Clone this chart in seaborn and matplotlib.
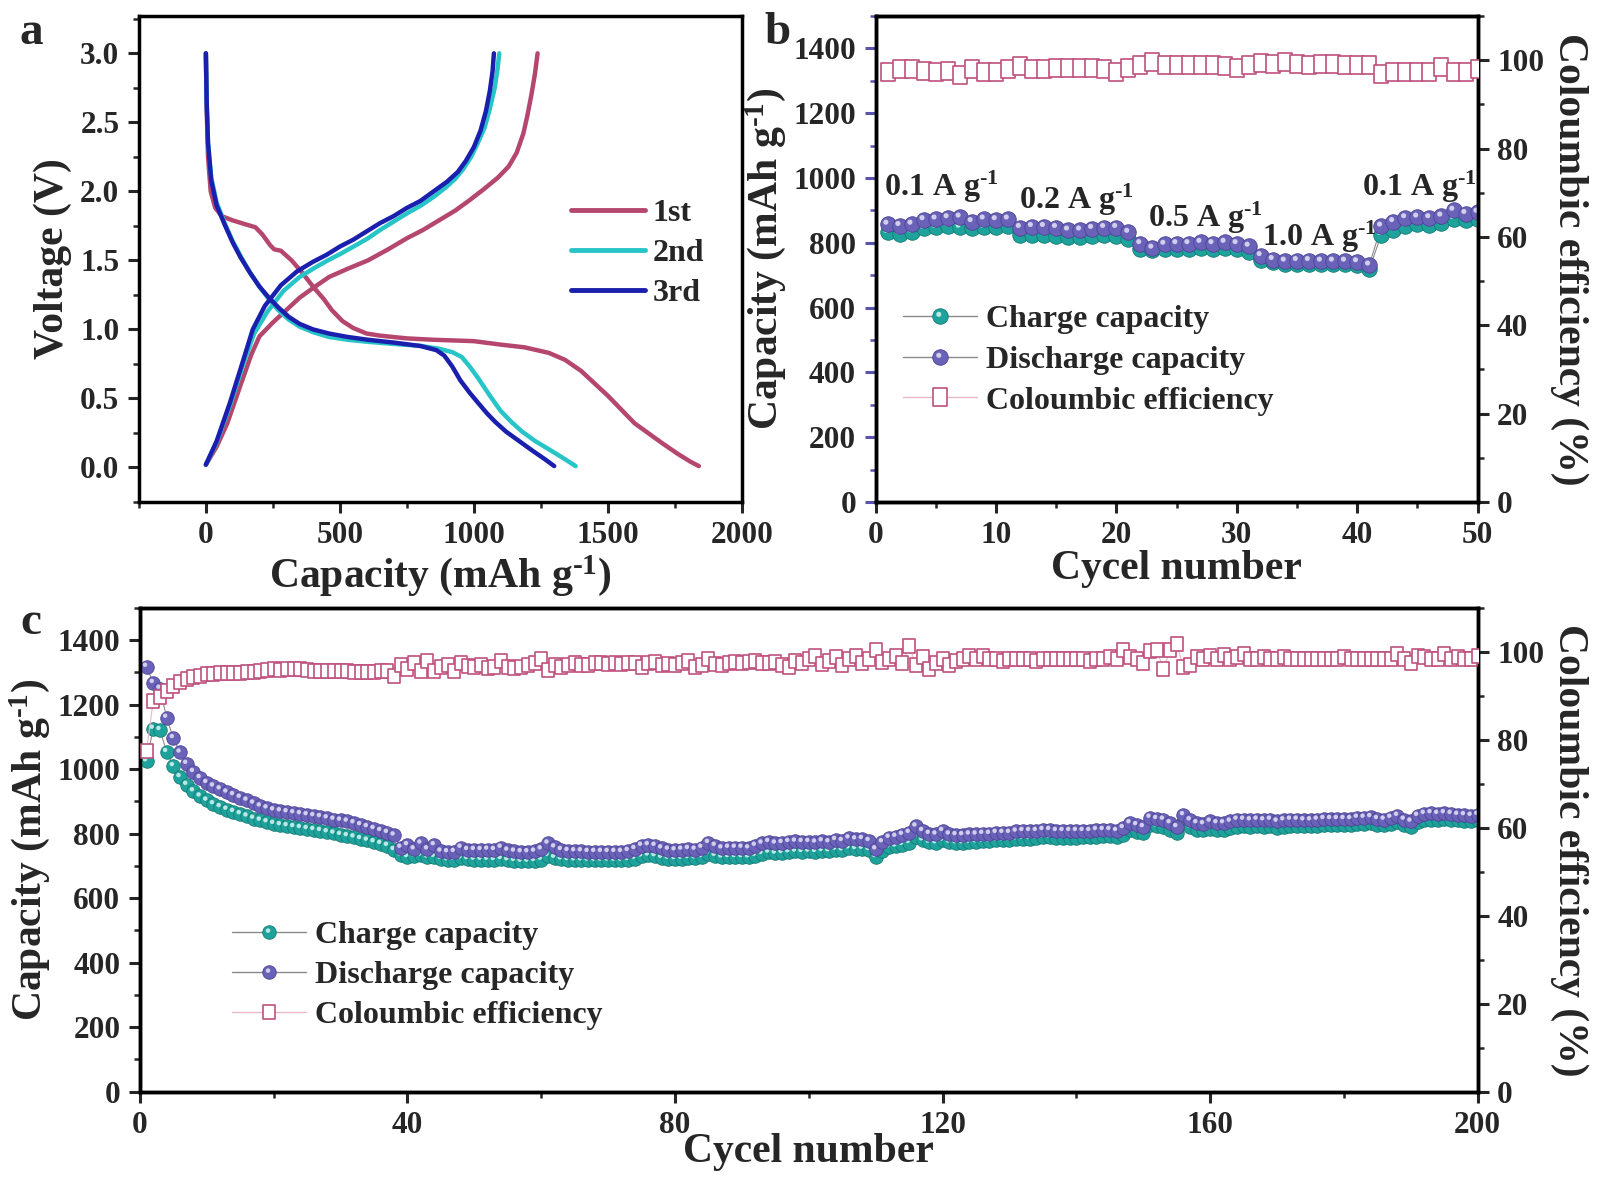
import numpy as np
import pandas as pd
import matplotlib
matplotlib.use("Agg")
import matplotlib.pyplot as plt
import seaborn as sns
from matplotlib.path import Path
from matplotlib.lines import Line2D
from matplotlib.legend_handler import HandlerTuple
from matplotlib.ticker import MultipleLocator

# ---------------- data: panel a (galvanostatic profiles) ----------------
dis1_cap = [0, 3, 8, 18, 35, 60, 100, 150, 185, 210, 240, 255, 280, 320, 360, 400, 440, 470, 510, 550, 600, 650, 750, 850, 1000, 1100, 1190, 1280, 1340, 1400, 1450, 1500, 1550, 1600, 1650, 1700, 1760, 1810, 1840]
dis1_v = [3.0, 2.6, 2.25, 2.0, 1.88, 1.82, 1.79, 1.76, 1.74, 1.69, 1.61, 1.58, 1.57, 1.50, 1.41, 1.31, 1.22, 1.14, 1.06, 1.01, 0.97, 0.955, 0.935, 0.925, 0.915, 0.89, 0.87, 0.83, 0.78, 0.70, 0.61, 0.52, 0.42, 0.32, 0.25, 0.18, 0.10, 0.04, 0.01]
chg1_cap = [0, 40, 80, 130, 170, 200, 250, 300, 350, 400, 460, 530, 605, 680, 750, 810, 870, 930, 980, 1040, 1090, 1130, 1160, 1185, 1200, 1215, 1228, 1238]
chg1_v = [0.02, 0.15, 0.32, 0.60, 0.82, 0.95, 1.05, 1.14, 1.23, 1.30, 1.38, 1.44, 1.50, 1.58, 1.66, 1.72, 1.79, 1.86, 1.93, 2.02, 2.10, 2.18, 2.28, 2.42, 2.55, 2.70, 2.85, 3.0]
dis2_cap = [0, 3, 8, 20, 40, 70, 100, 130, 165, 200, 235, 270, 310, 350, 400, 460, 530, 605, 700, 805, 870, 920, 955, 985, 1015, 1060, 1100, 1140, 1180, 1230, 1290, 1340, 1380]
dis2_v = [3.0, 2.65, 2.35, 2.1, 1.92, 1.77, 1.64, 1.53, 1.41, 1.31, 1.22, 1.14, 1.07, 1.02, 0.98, 0.945, 0.925, 0.91, 0.895, 0.88, 0.86, 0.835, 0.80, 0.73, 0.65, 0.52, 0.41, 0.33, 0.26, 0.19, 0.12, 0.06, 0.01]
chg2_cap = [0, 40, 90, 140, 180, 230, 290, 350, 405, 455, 505, 560, 605, 650, 700, 750, 805, 850, 896, 930, 960, 990, 1015, 1040, 1060, 1078, 1088, 1095]
chg2_v = [0.02, 0.18, 0.45, 0.75, 0.97, 1.13, 1.28, 1.38, 1.445, 1.50, 1.55, 1.61, 1.66, 1.72, 1.78, 1.84, 1.90, 1.96, 2.03, 2.09, 2.16, 2.25, 2.35, 2.46, 2.60, 2.75, 2.88, 3.0]
dis3_cap = [0, 3, 8, 20, 40, 70, 100, 130, 165, 200, 235, 270, 310, 350, 400, 460, 530, 605, 700, 800, 860, 890, 920, 950, 985, 1015, 1050, 1080, 1120, 1170, 1220, 1265, 1300]
dis3_v = [3.0, 2.65, 2.35, 2.08, 1.90, 1.76, 1.63, 1.52, 1.41, 1.31, 1.23, 1.16, 1.09, 1.04, 1.00, 0.97, 0.945, 0.925, 0.905, 0.88, 0.85, 0.81, 0.73, 0.63, 0.54, 0.47, 0.39, 0.33, 0.26, 0.19, 0.12, 0.06, 0.01]
chg3_cap = [0, 40, 90, 140, 175, 220, 280, 340, 400, 450, 500, 550, 600, 650, 700, 750, 800, 850, 900, 940, 970, 1000, 1025, 1045, 1060, 1070, 1075]
chg3_v = [0.02, 0.19, 0.47, 0.78, 1.00, 1.17, 1.32, 1.42, 1.49, 1.54, 1.60, 1.65, 1.71, 1.77, 1.82, 1.88, 1.93, 2.00, 2.07, 2.14, 2.22, 2.32, 2.44, 2.58, 2.73, 2.87, 3.0]
cycle_labels = ["1st", "2nd", "3rd"]

# ---------------- data: panel b (rate) ----------------
b_cycles = list(range(1, 51))
b_charge = [832, 828, 833, 845, 848, 852, 848, 845, 848, 848, 852, 825, 825, 825, 822, 818, 818, 822, 825, 822, 812,
            782, 778, 780, 782, 782, 785, 782, 785, 782, 772, 748, 740, 735, 735, 735, 735, 735, 735, 732, 718,
            825, 840, 852, 858, 855, 862, 875, 870, 872]
b_discharge = [857, 853, 857, 871, 873, 877, 879, 865, 873, 871, 873, 847, 850, 850, 847, 839, 839, 844, 847, 847, 832,
               797, 783, 795, 797, 797, 801, 797, 801, 797, 789, 760, 748, 743, 745, 745, 743, 743, 743, 741, 731,
               851, 865, 877, 879, 877, 882, 900, 890, 894]
b_ce = [97.3, 97.9, 98.1, 97.6, 97.3, 97.6, 96.6, 98.0, 97.4, 97.3, 98.0, 98.7, 97.9, 98.1, 98.3, 98.3, 98.3, 98.3, 98.1, 97.3,
        98.3, 99.0, 99.6, 99.0, 98.9, 98.9, 98.9, 98.9, 98.6, 98.3, 99.0, 99.3, 99.2, 99.7, 99.2, 99.0, 99.2, 99.2, 99.0, 98.9,
        98.9, 96.8, 97.4, 97.4, 97.3, 97.3, 98.5, 97.4, 97.4, 97.9]
rate_labels = [r"0.1 A g$^{\text{-1}}$", r"0.2 A g$^{\text{-1}}$", r"0.5 A g$^{\text{-1}}$",
               r"1.0 A g$^{\text{-1}}$", r"0.1 A g$^{\text{-1}}$"]
rate_label_x = [0.7, 11.9, 22.6, 32.1, 40.4]
rate_label_y = [972, 934, 877, 818, 972]

# ---------------- data: panel c (long cycling) ----------------
c_cycles = list(range(1, 201))
c_discharge = [1318, 1268, 1250, 1160, 1097, 1052, 1017, 992, 973, 958,
               947, 938, 928, 920, 912, 903, 894, 885, 879, 873,
               870, 867, 864, 861, 858, 855, 852, 848, 844, 841,
               838, 833, 827, 821, 815, 809, 803, 795, 757, 765,
               752, 770, 752, 765, 745, 743, 744, 757, 750, 750,
               750, 751, 750, 757, 748, 745, 743, 743, 745, 752,
               770, 758, 750, 747, 746, 746, 744, 744, 744, 744,
               744, 744, 747, 753, 763, 765, 763, 755, 751, 749,
               751, 753, 751, 757, 772, 763, 755, 757, 757, 757,
               755, 763, 770, 775, 770, 772, 775, 776, 775, 775,
               773, 777, 774, 781, 778, 786, 783, 784, 778, 752,
               774, 788, 791, 797, 803, 823, 809, 800, 798, 809,
               798, 796, 796, 798, 798, 800, 800, 803, 803, 803,
               807, 809, 809, 809, 812, 812, 809, 809, 809, 809,
               809, 809, 812, 812, 812, 809, 818, 833, 827, 821,
               850, 846, 844, 833, 821, 858, 842, 833, 830, 838,
               833, 833, 838, 844, 844, 842, 844, 842, 844, 838,
               842, 844, 844, 842, 842, 844, 846, 846, 846, 846,
               846, 850, 850, 852, 846, 844, 850, 856, 844, 838,
               856, 862, 864, 862, 864, 862, 859, 858, 856, 859]
c_charge = [1025, 1126, 1122, 1054, 1010, 976, 952, 932, 916, 903,
            892, 883, 875, 868, 861, 854, 847, 841, 836, 831,
            827, 824, 821, 818, 815, 812, 809, 805, 801, 797,
            793, 789, 784, 779, 774, 769, 763, 750, 733, 728,
            730, 733, 727, 729, 722, 718, 720, 724, 722, 720,
            720, 720, 719, 722, 718, 716, 714, 714, 716, 720,
            732, 726, 721, 719, 718, 718, 717, 717, 717, 717,
            717, 717, 719, 723, 730, 733, 731, 726, 723, 722,
            723, 725, 724, 728, 738, 732, 727, 728, 728, 728,
            727, 732, 738, 742, 739, 741, 743, 745, 744, 745,
            744, 747, 746, 751, 749, 755, 753, 754, 750, 728,
            746, 758, 761, 766, 772, 790, 780, 773, 771, 779,
            773, 771, 771, 773, 774, 776, 776, 779, 780, 780,
            783, 785, 785, 786, 789, 789, 787, 787, 788, 788,
            789, 789, 791, 792, 792, 790, 797, 810, 806, 801,
            826, 823, 822, 812, 803, 835, 820, 812, 810, 816,
            813, 813, 817, 822, 823, 821, 823, 822, 824, 819,
            822, 824, 825, 823, 823, 825, 827, 827, 828, 828,
            828, 831, 831, 833, 828, 826, 831, 836, 826, 821,
            836, 842, 844, 843, 845, 843, 841, 840, 839, 841]
c_ce = [77.5, 88.9, 89.7, 91.2, 92.3, 93.2, 93.8, 94.3, 94.6, 94.9,
        94.9, 95.1, 95.1, 95.3, 95.3, 95.5, 95.5, 95.7, 96.0, 96.2,
        96.0, 96.2, 96.2, 96.2, 96.0, 95.7, 95.7, 95.7, 95.7, 95.7,
        95.7, 95.5, 95.5, 95.5, 95.5, 95.7, 95.7, 94.6, 97.0, 96.2,
        97.4, 95.7, 97.9, 95.7, 96.6, 97.0, 95.7, 97.4, 96.8, 96.6,
        97.0, 96.3, 96.6, 97.9, 96.6, 96.3, 96.6, 97.0, 97.4, 98.3,
        96.0, 97.0, 96.6, 97.0, 97.4, 97.0, 97.0, 97.4, 97.4, 97.2,
        97.4, 97.2, 97.4, 97.4, 96.6, 97.4, 97.7, 97.0, 97.2, 97.0,
        97.4, 97.9, 96.6, 97.0, 98.3, 97.2, 97.0, 97.4, 97.7, 97.4,
        97.7, 97.9, 97.4, 97.4, 97.7, 97.0, 96.6, 97.9, 97.4, 98.3,
        99.1, 97.2, 98.0, 98.9, 97.0, 98.3, 99.1, 97.4, 98.3, 100.4,
        97.7, 98.5, 99.1, 97.4, 101.4, 97.0, 98.9, 96.2, 97.4, 98.3,
        97.0, 97.9, 98.3, 99.1, 98.3, 99.1, 98.3, 98.3, 97.9, 98.3,
        98.5, 98.3, 98.3, 98.0, 98.3, 98.3, 98.5, 98.3, 98.3, 98.3,
        98.5, 98.0, 98.5, 98.5, 98.9, 98.3, 100.4, 98.9, 98.3, 97.4,
        100.2, 100.4, 96.2, 100.4, 101.7, 96.6, 97.0, 98.9, 98.3, 99.1,
        98.3, 99.3, 98.3, 98.9, 99.5, 98.3, 98.5, 98.9, 98.3, 98.3,
        98.9, 98.3, 98.5, 98.3, 98.3, 98.3, 98.3, 98.5, 98.3, 98.9,
        98.3, 98.3, 98.5, 98.3, 98.3, 98.3, 98.3, 99.6, 98.3, 97.4,
        99.1, 98.9, 98.3, 98.5, 99.5, 98.3, 98.9, 98.5, 98.3, 99.1]
legend_labels = ["Charge capacity", "Discharge capacity", "Coloumbic efficiency"]

# ---------------- style ----------------
sns.set_style("ticks")
plt.rcParams["font.family"] = ["Liberation Serif", "DejaVu Serif"]
plt.rcParams["font.weight"] = "bold"
plt.rcParams["axes.labelweight"] = "bold"
plt.rcParams["mathtext.fontset"] = "custom"
plt.rcParams["mathtext.rm"] = "Liberation Serif:bold"
plt.rcParams["mathtext.it"] = "Liberation Serif:italic:bold"
plt.rcParams["mathtext.bf"] = "Liberation Serif:bold"
plt.rcParams["mathtext.default"] = "rm"

C1, C2, C3 = "#b5476f", "#27c4c8", "#1b1fae"
TEAL, TEAL_E = "#1ea39c", "#157a74"
PURP, PURP_E = "#6a62b8", "#4b4495"
CE_COL = "#c0507e"
TICK_FS = 22.5
LABEL_FS = 30
LEG_FS = 23

# highlight marker (small offset circle) to mimic shaded spheres
_c = Path.unit_circle()
_hv = np.concatenate([[[-1, -1], [1, 1]], _c.vertices * 0.33 + np.array([-0.22, 0.28])])
_hc = np.concatenate([[Path.MOVETO, Path.MOVETO], _c.codes])
HL = Path(_hv, _hc)
RECT = Path([[-0.8, -1], [0.8, -1], [0.8, 1], [-0.8, 1], [-0.8, -1]],
            [Path.MOVETO, Path.LINETO, Path.LINETO, Path.LINETO, Path.CLOSEPOLY])


def style_axis(ax, lw=2.5):
    for s in ax.spines.values():
        s.set_linewidth(lw)
        s.set_color("black")
    ax.tick_params(which="major", direction="out", length=8, width=2.2, labelsize=TICK_FS, pad=6)
    ax.tick_params(which="minor", direction="out", length=4.5, width=1.8)


fig = plt.figure(figsize=(16, 11.8), dpi=100)
axa = fig.add_axes([0.0868, 0.5746, 0.3768, 0.4118])
axb = fig.add_axes([0.5472, 0.5746, 0.3763, 0.4118])
axc = fig.add_axes([0.0874, 0.0748, 0.8362, 0.4100])

# ---------------- panel a ----------------
pairs = [((dis1_cap, dis1_v), (chg1_cap, chg1_v), C1),
         ((dis2_cap, dis2_v), (chg2_cap, chg2_v), C2),
         ((dis3_cap, dis3_v), (chg3_cap, chg3_v), C3)]
for (d, c, col), lab in zip(pairs, cycle_labels):
    sns.lineplot(x=d[0], y=d[1], ax=axa, sort=False, estimator=None, color=col, lw=3.2)
    sns.lineplot(x=c[0], y=c[1], ax=axa, sort=False, estimator=None, color=col, lw=3.2)
axa.set_xlim(-250, 2000)
axa.set_ylim(-0.25, 3.27)
axa.xaxis.set_major_locator(MultipleLocator(500))
axa.xaxis.set_minor_locator(MultipleLocator(250))
axa.yaxis.set_major_locator(MultipleLocator(0.5))
axa.yaxis.set_minor_locator(MultipleLocator(0.25))
axa.yaxis.set_major_formatter(matplotlib.ticker.FormatStrFormatter("%.1f"))
style_axis(axa)
axa.set_xlabel(r"Capacity (mAh g$^{\text{-1}}$)", fontsize=LABEL_FS, labelpad=2)
axa.set_ylabel("Voltage (V)", fontsize=LABEL_FS, labelpad=6)
ha = [Line2D([], [], color=col, lw=3.5) for col in (C1, C2, C3)]
axa.legend(ha, cycle_labels, loc="center left", bbox_to_anchor=(0.717, 0.512), frameon=False,
           fontsize=LEG_FS, handlelength=2.3, handletextpad=0.25, labelspacing=0.33, borderpad=0,
           borderaxespad=0)


def cap_panel(ax, cycles, charge, discharge, ce, s_ball, s_sq, legend_anchor, lspace):
    sns.lineplot(x=cycles, y=charge, ax=ax, color="#8a8a8a", lw=0.8, zorder=2)
    sns.lineplot(x=cycles, y=discharge, ax=ax, color="#8a8a8a", lw=0.8, zorder=2)
    sns.scatterplot(x=cycles, y=charge, ax=ax, color=TEAL, s=s_ball, edgecolor=TEAL_E, linewidth=0.6, zorder=3)
    sns.scatterplot(x=cycles, y=charge, ax=ax, color="#d8f4f2", s=s_ball, marker=HL, edgecolor="none",
                    linewidth=0, alpha=0.85, zorder=3.1)
    sns.scatterplot(x=cycles, y=discharge, ax=ax, color=PURP, s=s_ball, edgecolor=PURP_E, linewidth=0.6, zorder=4)
    sns.scatterplot(x=cycles, y=discharge, ax=ax, color="#e4e1f6", s=s_ball, marker=HL, edgecolor="none",
                    linewidth=0, alpha=0.85, zorder=4.1)
    ax.set_xlim(0, cycles[-1])
    ax.set_ylim(0, 1500)
    ax.yaxis.set_major_locator(MultipleLocator(200))
    ax.yaxis.set_minor_locator(MultipleLocator(100))
    style_axis(ax)
    ax.set_ylabel(r"Capacity (mAh g$^{\text{-1}}$)", fontsize=LABEL_FS, labelpad=4)
    ax.set_xlabel("Cycel number", fontsize=LABEL_FS, labelpad=0)
    ax.tick_params(axis="x", which="both", top=False)
    ax.tick_params(axis="y", which="both", right=False)

    tw = ax.twinx()
    sns.lineplot(x=cycles, y=ce, ax=tw, color="#e6b8c9", lw=0.8, zorder=2)
    sns.scatterplot(x=cycles, y=ce, ax=tw, marker=RECT, s=s_sq, facecolor="white", edgecolor=CE_COL,
                    linewidth=1.2, zorder=3)
    tw.set_ylim(0, 110)
    tw.yaxis.set_major_locator(MultipleLocator(20))
    tw.yaxis.set_minor_locator(MultipleLocator(10))
    style_axis(tw)
    tw.tick_params(axis="x", which="both", top=False, bottom=False)
    tw.set_ylabel("Coloumbic efficiency (%)", fontsize=LABEL_FS, rotation=270, labelpad=32)

    ms = np.sqrt(s_ball)
    h1 = (Line2D([], [], color="#8a8a8a", lw=1, marker="o", markersize=ms, markerfacecolor=TEAL,
                 markeredgecolor=TEAL_E, markeredgewidth=0.6),
          Line2D([], [], lw=0, marker=HL, markersize=ms, markerfacecolor="#d8f4f2",
                 markeredgecolor="none", alpha=0.85))
    h2 = (Line2D([], [], color="#8a8a8a", lw=1, marker="o", markersize=ms, markerfacecolor=PURP,
                 markeredgecolor=PURP_E, markeredgewidth=0.6),
          Line2D([], [], lw=0, marker=HL, markersize=ms, markerfacecolor="#e4e1f6",
                 markeredgecolor="none", alpha=0.85))
    h3 = Line2D([], [], color="#e6b8c9", lw=1, marker=RECT, markersize=np.sqrt(s_sq), markerfacecolor="white",
                markeredgecolor=CE_COL, markeredgewidth=1.2)
    tw.legend([h1, h2, h3], legend_labels, handler_map={tuple: HandlerTuple(ndivide=1, pad=0)},
              loc="center left", bbox_to_anchor=legend_anchor, frameon=False, fontsize=LEG_FS,
              handlelength=2.3, handletextpad=0.3, labelspacing=lspace, borderpad=0, borderaxespad=0)
    return tw


twb = cap_panel(axb, b_cycles, b_charge, b_discharge, b_ce, 125, 150, (0.046, 0.292), 0.36)
axb.xaxis.set_major_locator(MultipleLocator(10))
axb.xaxis.set_minor_locator(MultipleLocator(5))
axb.tick_params(axis="y", which="both", color="#5a54b0")
for t, x, y in zip(rate_labels, rate_label_x, rate_label_y):
    axb.text(x, y, t, fontsize=LEG_FS, ha="left", va="center", zorder=6)

twc = cap_panel(axc, c_cycles, c_charge, c_discharge, c_ce, 95, 105, (0.069, 0.2405), 0.33)
axc.xaxis.set_major_locator(MultipleLocator(40))
axc.xaxis.set_minor_locator(MultipleLocator(20))
axc.xaxis.labelpad = -5

# panel letters
fig.text(0.012, 0.972, "a", fontsize=34, fontweight="bold", va="center")
fig.text(0.478, 0.972, "b", fontsize=34, fontweight="bold", va="center")
fig.text(0.013, 0.472, "c", fontsize=34, fontweight="bold", va="center")

fig.savefig("out.png", dpi=100, facecolor="white")
